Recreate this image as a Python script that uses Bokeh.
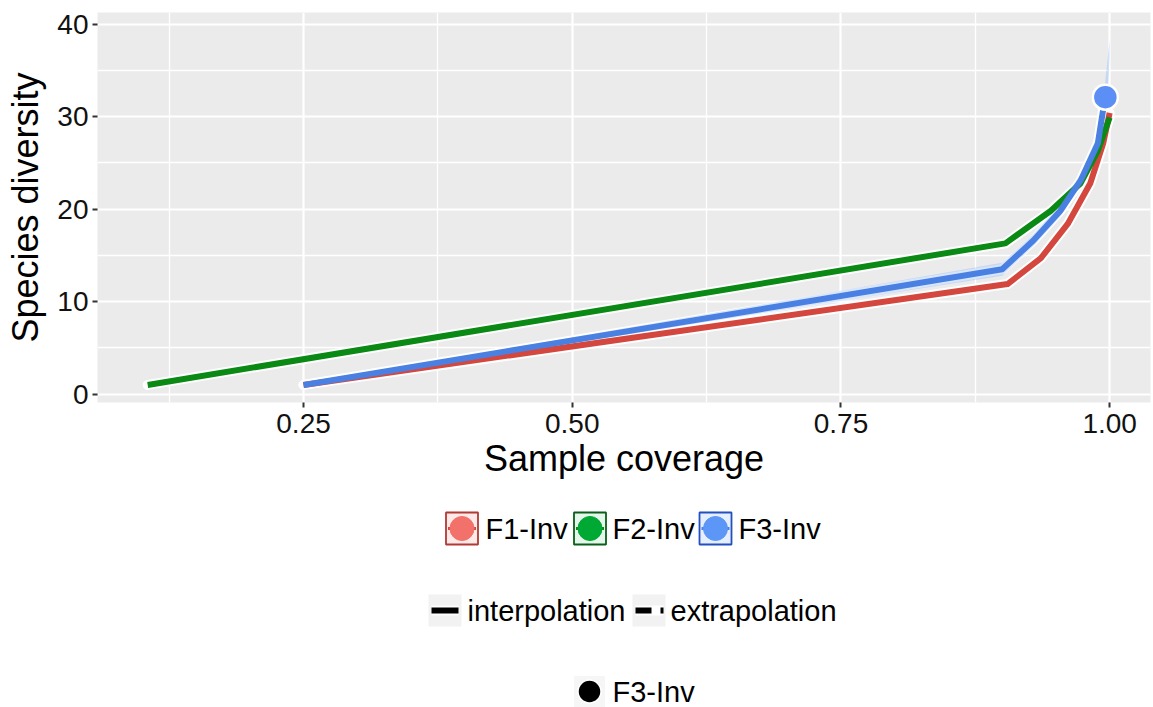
from bokeh.plotting import figure
from bokeh.models import Range1d, FixedTicker
from bokeh.layouts import column
from bokeh.core.properties import value
from bokeh.embed import file_html
from bokeh.resources import INLINE

# ---------------- data ----------------
categories = ["F1-Inv", "F2-Inv", "F3-Inv"]

f1_cov = [0.25, 0.905, 0.936, 0.961, 0.982, 0.994, 1.000]
f1_div = [1.0, 11.9, 14.7, 18.4, 22.8, 27.1, 30.4]

f2_cov = [0.105, 0.903, 0.945, 0.973, 0.989, 1.000]
f2_div = [1.0, 16.3, 19.8, 22.8, 26.3, 29.9]

f3_cov = [0.25, 0.900, 0.929, 0.954, 0.973, 0.989, 0.994, 0.996]
f3_div = [1.0, 13.5, 16.6, 19.8, 23.1, 27.1, 30.8, 32.1]

# confidence band of F3 (upper edge left->right, lower edge right->left)
f3_ci_upper_cov = [0.25, 0.900, 0.929, 0.954, 0.973, 0.989, 0.994, 0.997, 1.000]
f3_ci_upper_div = [1.1, 14.2, 17.3, 20.5, 23.8, 28.0, 31.8, 35.0, 38.3]
f3_ci_lower_cov = [1.000, 0.998, 0.994, 0.989, 0.973, 0.954, 0.929, 0.900, 0.25]
f3_ci_lower_div = [36.5, 32.0, 30.0, 26.4, 22.5, 19.2, 16.0, 12.8, 1.0]

obs_cov = [0.996]
obs_div = [32.1]

x_ticks = [0.25, 0.50, 0.75, 1.00]
x_tick_labels = ["0.25", "0.50", "0.75", "1.00"]
x_minor = [0.125, 0.375, 0.625, 0.875]
y_ticks = [0, 10, 20, 30, 40]
y_minor = [5, 15, 25, 35]

line_colors = ["#D4473E", "#0A8A14", "#4A80E2"]
key_fill = ["#F2716A", "#00A834", "#5C96F6"]
key_border = ["#B03A34", "#0B5E1A", "#2350BE"]
key_bg = ["#FCE9E8", "#E5F6EA", "#E6EFFF"]

FONT = "Liberation Sans"

# ---------------- main plot ----------------
p = figure(width=1153, height=490,
           x_range=Range1d(0.0583, 1.038), y_range=Range1d(-0.9, 41.25),
           output_backend="svg", toolbar_location=None,
           min_border_left=97, min_border_right=3, min_border_top=12, min_border_bottom=88)
p.background_fill_color = "#EBEBEB"
p.border_fill_color = "white"
p.outline_line_color = None

p.xaxis.ticker = FixedTicker(ticks=x_ticks, minor_ticks=x_minor)
p.yaxis.ticker = FixedTicker(ticks=y_ticks, minor_ticks=y_minor)
p.xaxis.major_label_overrides = {t: l for t, l in zip(x_ticks, x_tick_labels)}

for g in (p.xgrid, p.ygrid):
    g.grid_line_color = "white"
    g.grid_line_width = 2.2
    g.minor_grid_line_color = "white"
    g.minor_grid_line_width = 1.3

for ax in (p.xaxis, p.yaxis):
    ax.axis_line_color = None
    ax.major_tick_line_color = "#333333"
    ax.major_tick_line_width = 2
    ax.major_tick_out = 5
    ax.major_tick_in = 0
    ax.minor_tick_line_color = None
    ax.major_label_text_font = FONT
    ax.major_label_text_font_size = "28px"
    ax.major_label_text_color = "#111111"
    ax.axis_label_text_font = FONT
    ax.axis_label_text_font_size = "36px"
    ax.axis_label_text_font_style = "normal"
    ax.axis_label_text_color = "black"

p.xaxis.axis_label = "Sample coverage"
p.yaxis.axis_label = "Species diversity"
p.xaxis.major_label_standoff = 6
p.yaxis.major_label_standoff = 4
p.xaxis.axis_label_standoff = 2
p.yaxis.axis_label_standoff = 8

series = [(f1_cov, f1_div), (f2_cov, f2_div), (f3_cov, f3_div)]

# white halos
for xs, ys in series:
    p.line(xs, ys, line_color="white", line_width=10, line_join="round", line_cap="round")

# ribbon of F3
p.patch(f3_ci_upper_cov + f3_ci_lower_cov, f3_ci_upper_div + f3_ci_lower_div,
        fill_color="#619CFF", fill_alpha=0.25, line_color=None)

# interpolation lines
for (xs, ys), c in zip(series, line_colors):
    p.line(xs, ys, line_color=c, line_width=6, line_join="round")

# observed point
p.scatter(obs_cov, obs_div, size=25, fill_color="#5B8FF5", line_color="white", line_width=2.5)

# ---------------- legend panel ----------------
# the frame of this panel is aligned with the main frame (x from 97 to 1150 px)
lg = figure(width=1153, height=217, x_range=Range1d(97, 1150), y_range=Range1d(217, 0),
            output_backend="svg", toolbar_location=None,
            min_border=0, min_border_left=0, min_border_right=0, min_border_top=0, min_border_bottom=0)
lg.axis.visible = False
lg.grid.visible = False
lg.outline_line_color = None
lg.background_fill_color = "white"
lg.border_fill_color = "white"

LEG_FS = "29px"

# row 1: groups
r1y = 38
box_x = [461.5, 589.5, 715.0]
text_x = [485, 612, 738]
lg.rect(x=box_x, y=[r1y] * 3, width=32, height=32, fill_color=key_bg,
        line_color=key_border, line_width=1.8)
for bx, c in zip(box_x, line_colors):
    lg.segment(x0=[bx - 14], y0=[r1y], x1=[bx + 14], y1=[r1y], line_color=c, line_width=3)
lg.scatter(x=box_x, y=[r1y] * 3, size=24, fill_color=key_fill, line_color=key_fill, line_width=1)
lg.text(x=text_x, y=[r1y] * 3, text=categories, text_font=value(FONT),
        text_font_size=LEG_FS, text_baseline="middle", text_align="left", text_color="black")

# row 2: method
r2y = 120
methods = ["interpolation", "extrapolation"]
m_box_x = [444.5, 648.5]
m_text_x = [467, 670]
lg.rect(x=m_box_x, y=[r2y] * 2, width=33, height=32, fill_color="#F2F2F2", line_color=None)
lg.segment(x0=[431, 635], y0=[r2y] * 2, x1=[458, 663], y1=[r2y] * 2, line_color="white", line_width=10)
lg.segment(x0=[431], y0=[r2y], x1=[458], y1=[r2y], line_color="black", line_width=6)
lg.segment(x0=[635], y0=[r2y], x1=[663], y1=[r2y], line_color="black", line_width=6, line_dash="16 9")
lg.text(x=m_text_x, y=[r2y] * 2, text=methods, text_font=value(FONT),
        text_font_size=LEG_FS, text_baseline="middle", text_align="left", text_color="black")

# row 3: observed point
r3y = 201
lg.rect(x=[589], y=[r3y], width=31, height=31, fill_color="#F6F6F6", line_color=None)
lg.scatter(x=[589], y=[r3y], size=23, fill_color="black", line_color="white", line_width=1.5)
lg.text(x=[612], y=[r3y], text=[categories[2]], text_font=value(FONT),
        text_font_size=LEG_FS, text_baseline="middle", text_align="left", text_color="black")

layout = column(p, lg, spacing=0)
open("out.html", "w").write(file_html(layout, INLINE))
